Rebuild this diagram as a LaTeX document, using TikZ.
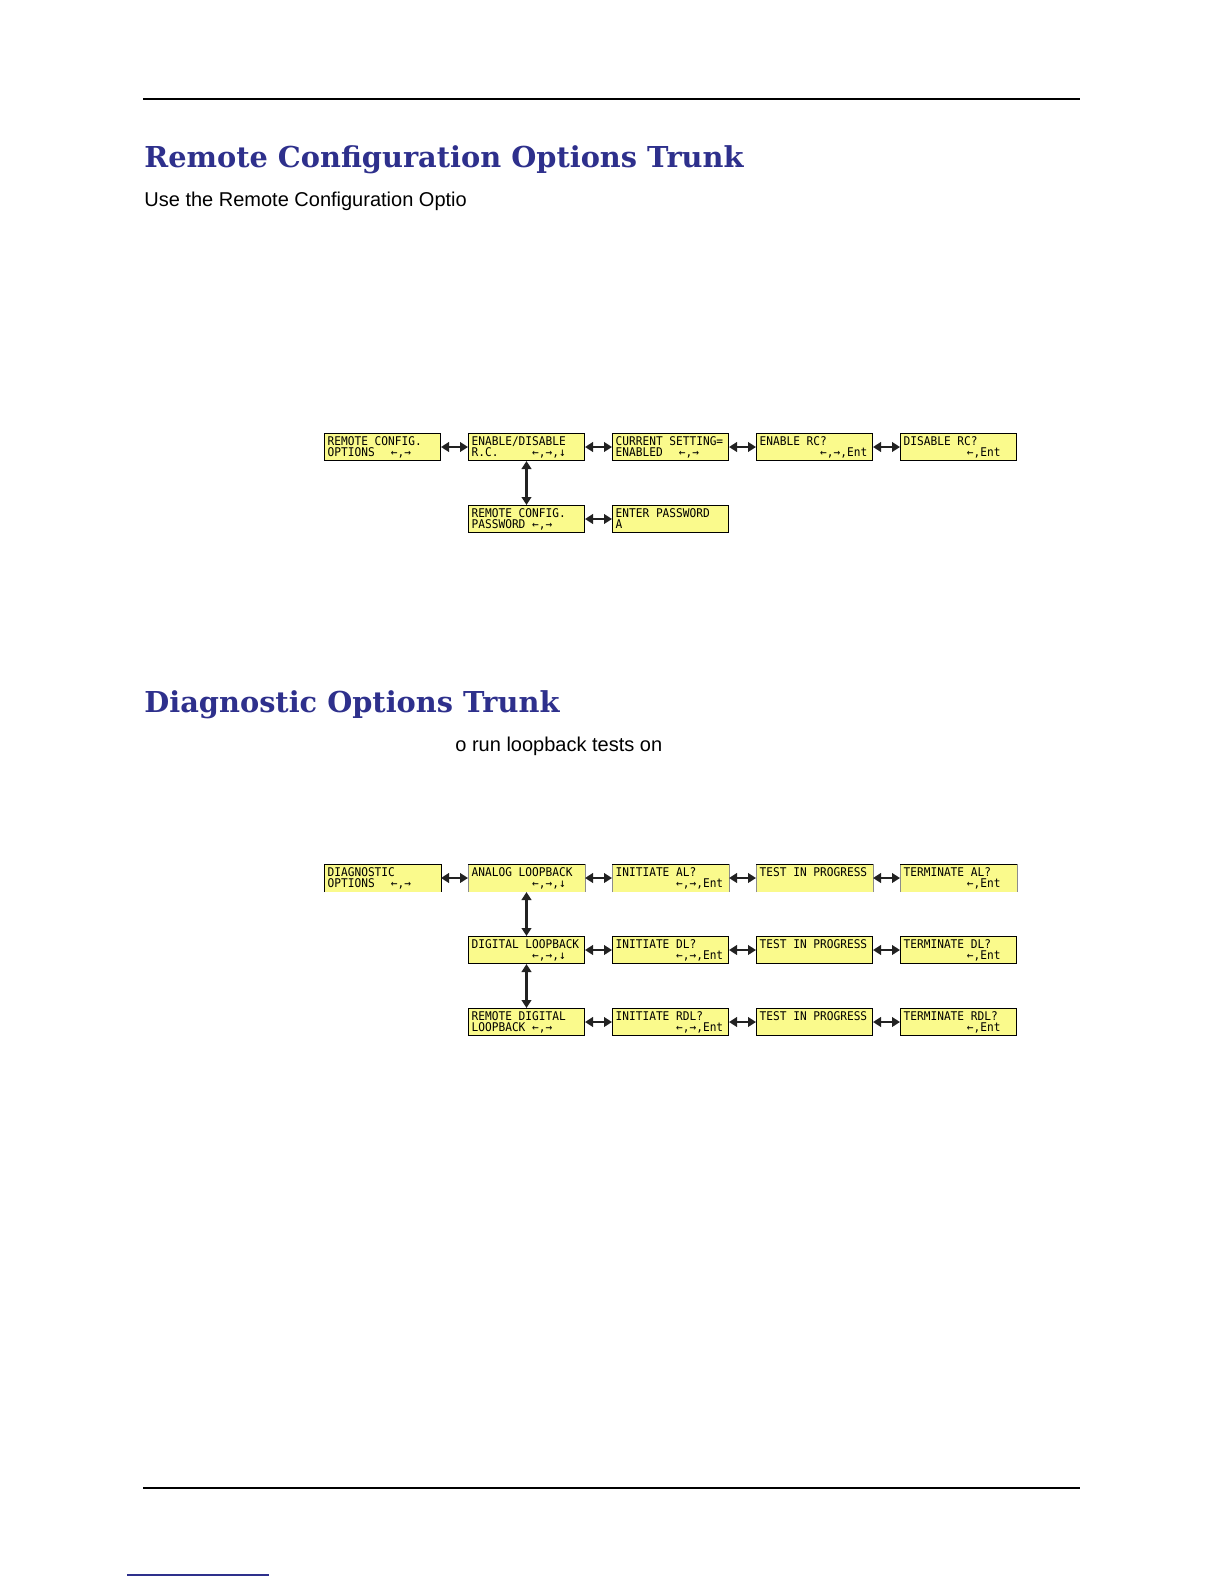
\documentclass[tikz,border=0pt]{standalone}
\usepackage{fontspec}
\setmainfont{Liberation Sans}
\newfontfamily\lcdfont[FakeStretch=0.93]{DejaVu Sans Mono}
\newfontfamily\headfont{DejaVu Serif}
\usetikzlibrary{arrows.meta}

\definecolor{lcdyellow}{RGB}{250,250,140}
\definecolor{headblue}{RGB}{46,48,140}
\definecolor{linkgray}{RGB}{34,34,34}

% blanks on the display, one full cell each
\newcommand{\lgap}[1]{\hspace*{#1\dimexpr3.36pt\relax}}
\newcommand{\lsp}{\lgap{1}}

\tikzset{
  lcd/.style={draw=black, line width=0.5pt, fill=lcdyellow, anchor=north west,
    inner xsep=1.6pt, inner ysep=0pt, text width=54.8pt, minimum height=13.5pt,
    text height=6.1pt, text depth=7.4pt, align=left,
    font=\lcdfont\fontsize{6}{5.4}\selectfont},
  lcdscan/.style={lcd, draw=none},
  link/.style={{Triangle[length=4pt,width=4.8pt]}-{Triangle[length=4pt,width=4.8pt]},
    line width=1.2pt, draw=linkgray},
  heading/.style={anchor=base west, inner sep=0pt, text=headblue,
    font=\headfont\bfseries\fontsize{14.4}{16}\selectfont},
  body/.style={anchor=base west, inner sep=0pt, font=\fontsize{10}{12}\selectfont},
}

\begin{document}
\begin{tikzpicture}[x=0.5pt, y=-0.5pt]
  \useasboundingbox (0,0) rectangle (1224,1584);

  % page rules
  \draw[line width=0.6pt] (143,99) -- (1080,99);
  \draw[line width=0.6pt] (143,1488) -- (1080,1488);
  \draw[line width=0.8pt, headblue] (127,1575) -- (269,1575);

  % remote configuration
  \node[heading] (h1) at (144,167) {Remote Configuration Options Trunk};
  \node[body] (t1) at (144,206) {Use the Remote Configuration Optio};

  \node[lcd] (rc)  at (324,433) {REMOTE\lsp CONFIG.\\OPTIONS\lgap{2.4}←,→};
  \node[lcd] (ed)  at (468,433) {ENABLE/DISABLE\\R.C.\lgap{5}←,→,↓};
  \node[lcd] (cs)  at (612,433) {CURRENT\lsp SETTING=\\ENABLED\lgap{2.4}←,→};
  \node[lcd] (en)  at (756,433) {ENABLE\lsp RC?\\\lgap{9}←,→,Ent};
  \node[lcd] (dis) at (900,433) {DISABLE\lsp RC?\\\lgap{9.4}←,Ent};
  \node[lcd] (pw)  at (468,505) {REMOTE\lsp CONFIG.\\PASSWORD\lsp ←,→};
  \node[lcd] (epw) at (612,505) {ENTER\lsp PASSWORD\\A};

  \draw[link] (rc.east) -- (ed.west);
  \draw[link] (ed.east) -- (cs.west);
  \draw[link] (cs.east) -- (en.west);
  \draw[link] (en.east) -- (dis.west);
  \draw[link] (ed.south) -- (pw.north);
  \draw[link] (pw.east) -- (epw.west);

  % diagnostics
  \node[heading] (h2) at (144,712) {Diagnostic Options Trunk};
  \node[body] (t2) at (455,751) {o run loopback tests on};

  \node[lcdscan] (dg)  at (324,864) {DIAGNOSTIC\\OPTIONS\lgap{2.4}←,→};
  \node[lcdscan] (al)  at (468,864) {ANALOG\lsp LOOPBACK\\\lgap{9}←,→,↓};
  \node[lcdscan] (ial) at (612,864) {INITIATE\lsp AL?\\\lgap{9}←,→,Ent};
  \node[lcdscan] (tal) at (756,864) {TEST\lsp IN\lsp PROGRESS};
  \node[lcdscan] (xal) at (900,864) {TERMINATE\lsp AL?\\\lgap{9.4}←,Ent};

  \node[lcd] (dl)  at (468,936) {DIGITAL\lsp LOOPBACK\\\lgap{9}←,→,↓};
  \node[lcd] (idl) at (612,936) {INITIATE\lsp DL?\\\lgap{9}←,→,Ent};
  \node[lcd] (tdl) at (756,936) {TEST\lsp IN\lsp PROGRESS};
  \node[lcd] (xdl) at (900,936) {TERMINATE\lsp DL?\\\lgap{9.4}←,Ent};

  \node[lcd] (rdl)  at (468,1008) {REMOTE\lsp DIGITAL\\LOOPBACK\lsp ←,→};
  \node[lcd] (irdl) at (612,1008) {INITIATE\lsp RDL?\\\lgap{9}←,→,Ent};
  \node[lcd] (trdl) at (756,1008) {TEST\lsp IN\lsp PROGRESS};
  \node[lcd] (xrdl) at (900,1008) {TERMINATE\lsp RDL?\\\lgap{9.4}←,Ent};

  % first row is only partly outlined
  \draw[line width=0.5pt] (dg.south west) -- (dg.north west) -- (dg.north east) -- (dg.south east);
  \foreach \n in {al, ial, tal, xal} {
    \draw[line width=0.5pt, black!45] (\n.south west) -- (\n.north west)
      (\n.north east) -- (\n.south east);
    \draw[line width=0.5pt] (\n.north west) -- (\n.north east);
  }

  \draw[link] (dg.east) -- (al.west);
  \draw[link] (al.east) -- (ial.west);
  \draw[link] (ial.east) -- (tal.west);
  \draw[link] (tal.east) -- (xal.west);
  \draw[link] (al.south) -- (dl.north);
  \draw[link] (dl.east) -- (idl.west);
  \draw[link] (idl.east) -- (tdl.west);
  \draw[link] (tdl.east) -- (xdl.west);
  \draw[link] (dl.south) -- (rdl.north);
  \draw[link] (rdl.east) -- (irdl.west);
  \draw[link] (irdl.east) -- (trdl.west);
  \draw[link] (trdl.east) -- (xrdl.west);
\end{tikzpicture}
\end{document}
